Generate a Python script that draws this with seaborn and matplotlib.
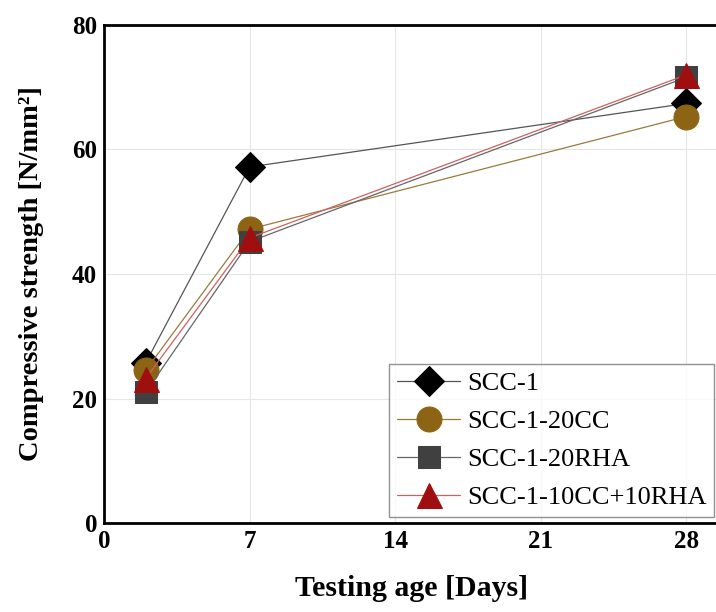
import numpy as np
import pandas as pd
import seaborn as sns
import matplotlib
matplotlib.use("Agg")
import matplotlib.pyplot as plt

# 数据
days = [2, 7, 28]
scc1 = [25.7, 57.2, 67.4]
scc1_20cc = [24.5, 47.2, 65.3]
scc1_20rha = [21.0, 45.2, 71.6]
scc1_10cc10rha = [23.2, 45.8, 72.0]

series_names = ["SCC-1", "SCC-1-20CC", "SCC-1-20RHA", "SCC-1-10CC+10RHA"]
x_ticks = [0, 7, 14, 21, 28]
y_ticks = [0, 20, 40, 60, 80]

df = pd.DataFrame({
    "day": days * 4,
    "strength": scc1 + scc1_20cc + scc1_20rha + scc1_10cc10rha,
    "mix": np.repeat(series_names, len(days)),
})

sns.set_theme(style="white")
plt.rcParams['font.family'] = ['Liberation Serif', 'DejaVu Serif']
plt.rcParams['text.color'] = 'black'
plt.rcParams['axes.labelcolor'] = 'black'
plt.rcParams['xtick.color'] = 'black'
plt.rcParams['ytick.color'] = 'black'

# 样式: 标记, 标记颜色, 线颜色, 标记大小
styles = {
    "SCC-1": ("D", "#000000", "#555555", 15),
    "SCC-1-20CC": ("o", "#8c6414", "#9a7a3a", 18),
    "SCC-1-20RHA": ("s", "#404040", "#666666", 16),
    "SCC-1-10CC+10RHA": ("^", "#a00f0f", "#d06060", 18),
}

fig = plt.figure(figsize=(7.16, 6.12), dpi=100)
ax = fig.add_axes([104 / 716, 89 / 612, 0.86, 498 / 612])

for name in series_names:
    mk, mc, lc, ms = styles[name]
    sub = df[df["mix"] == name]
    sns.lineplot(data=sub, x="day", y="strength", ax=ax, color=lc, lw=0.9,
                 marker=mk, markersize=ms, markerfacecolor=mc,
                 markeredgecolor=mc, label=name)

ax.set_xlim(0, (716 - 104) / 20.71 + 0.05)
ax.set_ylim(0, 80)
ax.set_xticks(x_ticks)
ax.set_yticks(y_ticks)
ax.grid(True, color="#e6e6e6", lw=0.8)
for lbl in ax.get_xticklabels() + ax.get_yticklabels():
    lbl.set_fontweight("bold")
    lbl.set_fontsize(18)
ax.tick_params(length=0, pad=5)

for side in ["left", "bottom", "top"]:
    ax.spines[side].set_color("black")
    ax.spines[side].set_linewidth(2.0)
ax.spines["right"].set_visible(False)

ax.set_xlabel("Testing age [Days]", fontsize=21.5, fontweight="bold", labelpad=16)
ax.set_ylabel("Compressive strength [N/mm²]", fontsize=20.5, fontweight="bold", labelpad=20)

# 图例放在右下角
leg = ax.legend(loc="lower left", bbox_to_anchor=(389 / 716, (612 - 517) / 612),
                bbox_transform=fig.transFigure, fontsize=19, frameon=True,
                fancybox=False, handlelength=2.4, borderpad=0.3,
                labelspacing=0.55, handletextpad=0.25, borderaxespad=0)
leg.get_frame().set_edgecolor("#777777")
leg.get_frame().set_linewidth(1.0)

plt.savefig("out.png", dpi=100)
